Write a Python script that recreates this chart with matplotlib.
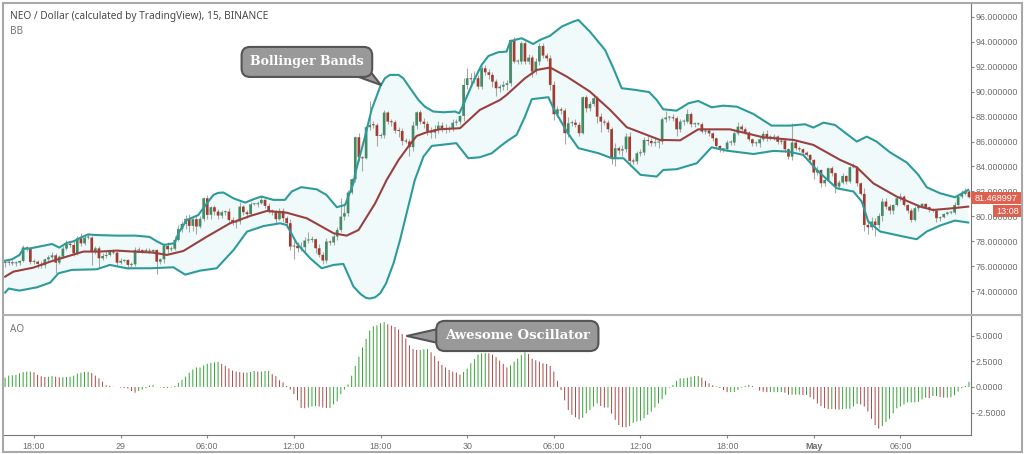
"""
NEO / Dollar 15 分钟 K 线：布林带与动量震荡指标 (AO)。
"""

import numpy as np
import matplotlib.pyplot as plt
from matplotlib.lines import Line2D
from matplotlib.patches import Rectangle


def load_data():
    closes = [
        76.36, 76.28, 76.23, 76.28, 76.42, 77.51, 77.41, 76.34, 76.36, 76.18,
        76.07, 76.55, 76.71, 76.87, 76.28, 76.76, 77.41, 77.78, 77.7, 77.03,
        78.23, 77.83, 78.29, 78.29, 77.17, 77.43, 76.63, 76.82, 76.9, 77.17,
        77.09, 76.28, 76.42, 76.5, 76.1, 76.15, 77.3, 77.25, 77.22, 77.25,
        77.17, 77.3, 76.36, 76.55, 77.62, 77.35, 77.4, 78.11, 78.97, 79.39,
        79.8, 79.23, 79.77, 79.18, 79.8, 81.45, 80.12, 80.73, 80.38, 80.06,
        80.33, 80.38, 79.71, 79.5, 79.58, 80.78, 80.33, 80.17, 80.97, 80.97,
        81.05, 81.32, 80.84, 80.46, 80.33, 79.77, 80.44, 79.85, 79.45, 77.57,
        77.63, 77.44, 77.52, 78.06, 78.11, 78.16, 77.44, 76.91, 76.45, 77.98,
        77.9, 78.38, 78.91, 79.98, 80.25, 81.91, 82.98, 86.35, 84.74, 84.66,
        87.15, 87.34, 87.31, 86.45, 86.5, 88.33, 87.6, 87.55, 86.88, 86.85,
        86.05, 86.0, 85.55, 87.28, 88.35, 87.6, 87.42, 86.85, 86.72, 86.99,
        87.28, 87.07, 86.99, 87.07, 87.52, 87.6, 88.06, 90.54, 91.08, 91.0,
        91.08, 90.41, 91.88, 91.56, 91.35, 90.81, 90.28, 90.41, 90.55, 90.68,
        94.16, 92.42, 92.42, 93.89, 92.42, 92.74, 91.62, 92.42, 93.67, 92.9,
        92.68, 90.55, 88.19, 88.59, 88.49, 86.67, 87.47, 87.52, 87.34, 86.67,
        89.56, 88.67, 89.02, 89.48, 88.0, 87.6, 87.52, 86.99, 84.66, 85.47,
        85.28, 85.39, 86.4, 84.45, 84.4, 85.06, 85.12, 86.13, 86.05, 85.87,
        85.92, 86.0, 87.79, 87.93, 87.95, 87.87, 86.98, 87.6, 87.6, 88.21,
        87.39, 87.39, 87.39, 86.8, 86.88, 86.66, 86.26, 85.65, 85.38, 85.38,
        85.92, 85.92, 86.66, 87.2, 86.98, 86.72, 86.18, 85.86, 85.86, 86.18,
        86.61, 86.32, 86.32, 86.4, 85.98, 86.08, 85.38, 84.79, 85.92, 85.46,
        85.38, 85.11, 84.93, 84.53, 83.51, 83.72, 82.65, 82.92, 83.86, 83.46,
        82.39, 82.71, 83.24, 82.79, 83.94, 83.94, 82.65, 81.8, 79.31, 79.12,
        79.58, 79.3, 80.03, 81.18, 80.78, 80.46, 80.91, 81.45, 81.58, 80.91,
        80.46, 79.71, 80.65, 80.78, 81.0, 80.73, 80.57, 80.46, 79.85, 79.93,
        80.19, 80.3, 80.3, 80.91, 81.58, 81.8, 81.99, 81.53,
    ]
    # 上影线长度
    wick_up = [
        0.1, 0.1, 0.2, 0.1, 0.1, 0.2, 0.1, 0.1, 0.2, 0.1,
        0.2, 0.1, 0.2, 0.3, 0.2, 0.1, 0.2, 0.3, 0.2, 0.3,
        0.2, 0.4, 0.2, 0.3, 0.1, 0.2, 0.2, 0.2, 0.3, 0.1,
        0.2, 0.1, 0.2, 0.1, 0.1, 0.2, 0.2, 0.2, 0.1, 0.2,
        0.2, 0.1, 0.1, 0.1, 0.2, 0.3, 0.2, 0.3, 0.3, 0.2,
        0.3, 0.4, 0.2, 0.3, 0.2, 0.1, 0.3, 0.1, 0.2, 0.2,
        0.2, 0.1, 0.3, 0.2, 0.2, 0.4, 0.1, 0.2, 0.2, 0.1,
        0.2, 0.3, 0.1, 0.2, 0.1, 0.2, 0.2, 0.2, 0.2, 0.3,
        0.5, 0.3, 0.4, 0.3, 0.6, 0.3, 0.1, 0.3, 0.2, 0.3,
        0.1, 0.2, 0.2, 1.5, 0.8, 0.2, 0.1, 0.1, 0.3, 0.1,
        0.1, 1.9, 0.3, 0.2, 0.2, 0.2, 0.1, 0.2, 0.2, 0.3,
        0.2, 0.2, 0.2, 0.4, 0.1, 0.2, 0.3, 0.2, 0.3, 0.3,
        0.4, 0.3, 0.3, 0.2, 0.3, 0.2, 0.1, 0.6, 0.8, 0.4,
        0.6, 0.3, 0.2, 0.3, 0.3, 0.2, 0.2, 0.2, 0.3, 0.3,
        0.1, 0.2, 0.2, 0.2, 0.2, 0.3, 0.2, 0.3, 0.2, 0.2,
        0.2, 0.3, 0.3, 0.3, 0.2, 0.2, 0.5, 0.2, 0.3, 0.2,
        0.1, 0.2, 0.2, 0.2, 0.2, 0.3, 0.2, 0.2, 0.2, 0.4,
        0.2, 0.3, 0.3, 0.4, 0.2, 0.2, 0.3, 0.2, 0.3, 0.2,
        0.4, 0.2, 0.2, 0.5, 0.1, 0.3, 0.2, 0.2, 0.2, 0.4,
        0.2, 0.2, 0.2, 0.2, 0.2, 0.2, 0.1, 0.1, 0.1, 0.1,
        0.2, 0.2, 0.2, 0.4, 0.2, 0.2, 0.1, 0.1, 0.2, 0.2,
        0.2, 0.3, 0.2, 0.2, 0.1, 0.2, 0.1, 0.1, 1.6, 0.2,
        0.2, 0.1, 0.1, 0.1, 0.1, 0.3, 0.1, 0.2, 0.1, 0.2,
        0.1, 0.2, 0.2, 0.1, 0.1, 0.3, 0.1, 0.1, 0.5, 0.2,
        0.4, 0.3, 0.2, 0.3, 0.3, 0.2, 0.1, 0.1, 0.3, 0.1,
        0.1, 0.2, 0.2, 0.2, 0.1, 0.1, 0.1, 0.1, 0.1, 0.1,
        0.1, 0.1, 0.1, 0.2, 0.1, 0.3, 0.3, 0.1,
    ]
    # 下影线长度
    wick_dn = [
        0.3, 0.2, 0.1, 0.2, 0.2, 0.1, 0.2, 0.2, 0.2, 0.3,
        0.2, 0.2, 0.1, 0.1, 0.8, 0.1, 0.1, 0.1, 0.2, 0.2,
        0.1, 0.2, 0.1, 0.1, 1.1, 0.2, 0.8, 0.1, 0.2, 0.1,
        0.1, 0.2, 0.1, 0.1, 0.3, 0.2, 0.1, 0.1, 0.2, 0.1,
        0.1, 0.1, 1.0, 0.2, 0.3, 0.3, 0.1, 0.1, 0.1, 0.2,
        0.4, 0.5, 0.4, 0.6, 0.1, 0.2, 0.3, 0.3, 0.3, 0.3,
        0.2, 0.2, 0.2, 0.2, 0.4, 0.2, 0.2, 0.3, 0.1, 0.1,
        0.2, 0.1, 0.2, 0.2, 0.2, 0.3, 0.1, 0.3, 0.2, 0.3,
        1.0, 0.3, 0.2, 0.4, 0.2, 0.2, 0.4, 0.2, 0.3, 0.2,
        0.2, 0.2, 0.3, 0.2, 0.3, 0.2, 0.1, 0.2, 0.3, 1.0,
        0.1, 0.2, 0.2, 0.8, 0.2, 0.2, 0.2, 0.3, 0.2, 0.5,
        0.3, 0.1, 0.7, 0.3, 0.3, 0.2, 0.3, 0.3, 0.4, 0.4,
        0.3, 0.3, 0.3, 0.2, 0.2, 0.2, 0.2, 0.4, 0.3, 0.6,
        0.3, 0.2, 0.2, 0.2, 0.3, 0.4, 0.6, 0.3, 0.3, 0.4,
        0.2, 0.1, 0.2, 0.2, 0.2, 0.2, 0.4, 0.2, 0.3, 0.2,
        0.2, 0.4, 0.5, 0.2, 0.3, 0.9, 0.3, 0.2, 0.2, 0.2,
        0.1, 0.3, 0.2, 0.2, 0.5, 0.8, 0.2, 0.2, 0.5, 0.6,
        0.3, 0.4, 0.2, 0.4, 0.2, 0.2, 0.2, 0.2, 0.3, 0.2,
        0.2, 0.4, 0.2, 0.2, 0.2, 0.2, 0.5, 0.2, 0.3, 0.1,
        0.2, 0.2, 0.1, 0.1, 0.2, 0.2, 0.2, 0.2, 0.2, 0.2,
        0.1, 0.2, 0.2, 0.1, 0.1, 0.1, 0.1, 0.2, 0.2, 0.3,
        0.1, 0.3, 0.2, 0.2, 0.2, 0.2, 0.2, 0.2, 0.3, 0.1,
        0.1, 0.2, 0.1, 0.2, 0.5, 0.2, 0.3, 0.2, 0.1, 0.2,
        0.5, 0.2, 0.1, 0.2, 0.1, 0.1, 0.2, 0.1, 0.5, 0.5,
        0.2, 0.9, 0.2, 0.4, 0.2, 0.3, 0.3, 0.1, 0.2, 0.1,
        0.2, 0.2, 0.1, 0.2, 0.1, 0.1, 0.2, 0.1, 0.3, 0.2,
        0.1, 0.1, 0.1, 0.1, 0.1, 0.1, 0.1, 0.1,
    ]
    upper = [
        (0, 76.44), (2, 76.56), (4, 76.9), (5, 77.38), (7, 77.43), (10, 77.6),
        (13, 77.78), (15, 77.49), (17, 77.85), (19, 78.0), (21, 78.3), (23, 78.55),
        (25, 78.5), (31, 78.45), (36, 78.45), (40, 78.35), (42, 78.0), (44, 77.7),
        (47, 77.85), (48, 78.64), (50.3, 79.7), (53.5, 80.1), (54.9, 80.65),
        (57.7, 81.72), (59, 81.88), (60.5, 81.91), (63.2, 81.45), (66.5, 81.1), (68.8, 81.37),
        (71, 81.59), (74.3, 81.32), (77.5, 81.32), (79.4, 81.99), (82, 82.34),
        (86.3, 82.17), (89, 81.72), (91.9, 80.73), (94.2, 80.92), (96.5, 82.66),
        (97, 83.46), (99.7, 86.4), (101.5, 88.54), (103.9, 90.41), (105.2, 91.08),
        (106.6, 91.35), (109, 91.35), (110.3, 91.08), (112.2, 90.28), (114.5, 89.34),
        (116.3, 88.8), (118.6, 88.41), (121.4, 88.35), (124.6, 88.41), (125.8, 88.27),
        (126.9, 88.94), (129.7, 90.81), (132, 92.15), (133.9, 92.87), (136.6, 93.17),
        (138.9, 93.22), (139.9, 94.02), (141.2, 94.16), (143.1, 94.29), (145, 94.02),
        (146.3, 93.83), (148.2, 94.16), (150.9, 94.48), (154.2, 95.23), (157.4, 95.63),
        (158.8, 95.76), (162, 94.82), (166.2, 93.35), (168.5, 91.88), (170.8, 90.28),
        (174.5, 90.15), (178.4, 89.97), (180.5, 89.34), (182.3, 88.59), (186, 88.48),
        (189.3, 89.07), (192, 89.26), (195.7, 88.75), (198.9, 88.88), (202.7, 88.8),
        (207.3, 88.21), (212.3, 87.28), (217.4, 87.28), (221.6, 87.39), (223.9, 87.12),
        (226.7, 87.52), (229.9, 87.33), (235.9, 86.0), (238.7, 86.4), (241.4, 86.0),
        (245.1, 85.14), (249.8, 84.31), (253, 83.32), (255.3, 82.33), (259, 81.85),
        (263.1, 81.53), (266.8, 82.12),
    ]
    middle = [
        (0, 75.16), (2.3, 75.56), (7.8, 75.88), (12.5, 76.36), (17, 76.76), (21.7, 77.17),
        (26.3, 77.17), (30.9, 77.25), (35.5, 77.17), (41, 77.09), (44.8, 76.9),
        (49.4, 77.22), (55.9, 78.37), (62.3, 79.44), (67.9, 80.03), (72.5, 80.43),
        (78, 80.29), (83.6, 79.84), (91, 78.64), (94.6, 78.45), (97.9, 78.9),
        (102.5, 81.04), (105.7, 82.92), (109, 84.53), (111.7, 85.6), (114, 86.45),
        (116.8, 86.75), (120.5, 86.99), (126, 87.07), (131.5, 88.54), (137.1, 89.34),
        (138.9, 89.74), (144, 91.08), (147.3, 91.75), (151, 91.94), (155.6, 91.21),
        (162, 90.01), (167.6, 88.54), (172.2, 87.15), (177.7, 86.54), (181.4, 86.13),
        (187, 86.1), (192, 86.98), (200.8, 86.98), (210, 86.34), (218.4, 86.13),
        (223.9, 85.73), (231.3, 84.53), (235.9, 83.94), (240.5, 82.65), (247, 81.58),
        (253.5, 80.78), (257, 80.51), (262.6, 80.65), (266.8, 80.78),
    ]
    lower = [
        (0, 73.88), (1, 74.2), (4, 74.04), (8.8, 74.3), (12.5, 74.68), (14.8, 75.43),
        (18.5, 75.7), (25.4, 75.75), (29, 76.1), (33.7, 75.83), (40.2, 75.83),
        (46.6, 75.91), (49.9, 75.32), (54, 75.64), (58.6, 75.83), (63.3, 77.3),
        (67, 78.77), (71.6, 79.22), (76.2, 79.44), (78, 79.3), (80.8, 77.83),
        (84.5, 76.63), (87.7, 75.83), (91, 76.1), (93.7, 76.18), (96.5, 74.36),
        (98.5, 73.75), (100, 73.45), (101, 73.4), (102.5, 73.5), (103.9, 73.82),
        (105.5, 74.6), (107.6, 76.23), (109.4, 78.1), (113.5, 82.92),
        (115.9, 84.8), (118.2, 85.65), (125, 85.87), (128.3, 84.66), (131.5, 84.74),
        (134.8, 85.06), (137.1, 85.6), (138.9, 86.0), (141.7, 86.54), (144, 88.0),
        (145.9, 89.4), (150.5, 89.56), (151.9, 88.67), (155.6, 86.8), (158.8, 85.47),
        (164.4, 85.06), (168.1, 84.66), (171.3, 84.66), (176, 83.33), (180.5, 83.19),
        (182.3, 83.72), (186, 83.78), (191.6, 84.26), (195.7, 85.54), (199.9, 85.27),
        (207.3, 85.0), (212.8, 85.25), (217, 85.19), (221.1, 84.93), (224.8, 83.72),
        (230.4, 82.25), (235, 81.99), (237.3, 81.18), (239.1, 79.58), (242.4, 78.78),
        (248.8, 78.38), (252.5, 78.16), (255.3, 78.78), (259, 79.26), (263.1, 79.66),
        (266.8, 79.5),
    ]
    ao = [
        0.9, 1.1, 1.13, 1.17, 1.33, 1.46, 1.49, 1.49, 1.43, 1.17,
        1.04, 0.97, 1.0, 1.07, 1.0, 0.94, 0.94, 0.97, 1.0, 1.1,
        1.3, 1.4, 1.46, 1.49, 1.36, 1.1, 0.84, 0.52, 0.16, 0.1,
        0.02, 0.0, -0.05, -0.1, -0.15, -0.4, -0.55, -0.4, -0.25, -0.1,
        0.15, 0.18, 0.0, -0.05, -0.1, -0.1, -0.05, 0.1, 0.4, 0.7,
        1.0, 1.4, 1.7, 1.9, 1.9, 2.1, 2.25, 2.35, 2.4, 2.45,
        2.25, 2.05, 1.8, 1.6, 1.5, 1.45, 1.4, 1.4, 1.45, 1.55,
        1.5, 1.5, 1.55, 1.55, 1.25, 1.05, 0.65, 0.45, 0.1, -0.25,
        -0.7, -1.3, -2.05, -2.07, -2.0, -1.9, -1.85, -1.9, -2.0, -2.05,
        -2.05, -1.7, -1.4, -0.7, -0.25, 0.25, 1.1, 2.05, 2.95, 3.85,
        4.67, 5.5, 5.9, 6.0, 6.2, 6.3, 6.1, 5.97, 5.84, 5.6,
        5.15, 4.7, 4.05, 3.7, 3.6, 3.6, 3.66, 3.7, 3.37, 3.0,
        2.53, 2.14, 1.9, 1.65, 1.5, 1.4, 1.2, 1.46, 1.78, 2.3,
        2.7, 3.15, 3.27, 3.3, 3.27, 3.15, 2.9, 2.56, 2.24, 1.9,
        2.1, 2.46, 2.75, 3.1, 3.37, 3.2, 2.75, 2.6, 2.46, 2.3,
        2.24, 2.04, 1.5, 0.6, -0.3, -1.3, -2.24, -2.7, -2.95, -3.15,
        -3.0, -2.56, -2.24, -1.9, -1.6, -1.85, -2.0, -2.0, -2.6, -3.2,
        -3.7, -3.9, -3.92, -3.8, -3.5, -3.37, -3.27, -3.05, -2.7, -2.4,
        -2.0, -1.6, -1.2, -0.78, -0.06, 0.2, 0.6, 0.85, 0.85, 0.9,
        1.0, 1.07, 1.07, 0.9, 0.6, 0.35, 0.16, 0.05, -0.1, -0.3,
        -0.5, -0.5, -0.5, -0.3, -0.06, 0.1, 0.2, 0.1, 0.0, -0.35,
        -0.45, -0.5, -0.5, -0.5, -0.5, -0.5, -0.55, -0.75, -0.75, -0.75,
        -0.75, -0.78, -0.78, -1.0, -1.2, -1.6, -1.85, -2.05, -2.15, -2.15,
        -2.17, -2.2, -2.15, -2.12, -2.12, -1.9, -1.65, -1.7, -1.9, -2.4,
        -3.1, -3.7, -4.05, -3.8, -3.4, -3.1, -2.56, -2.07, -1.9, -1.7,
        -1.5, -1.5, -1.5, -1.45, -1.2, -1.05, -1.07, -0.88, -0.88, -0.97,
        -1.04, -1.04, -1.0, -0.8, -0.45, -0.13, 0.1, 0.5,
    ]
    return closes, wick_up, wick_dn, upper, middle, lower, ao


def plot_chart(closes, wick_up, wick_dn, upper, middle, lower, ao):
    """绘制 K 线、布林带和 AO"""
    fig, axes = plt.subplots(2, 1, figsize=(10.24, 4.54), sharex=True,
                             gridspec_kw={'height_ratios': [312, 120.5]})
    fig.subplots_adjust(left=3/1024, right=971/1024, top=1-3/454, bottom=1-435.5/454, hspace=0)

    idx = np.arange(len(closes))
    closes = np.array(closes)
    opens = np.r_[closes[0] - 0.1, closes[:-1]]
    body_top = np.maximum(opens, closes)
    body_bot = np.minimum(opens, closes)
    ups = closes >= opens

    # 图 1: 布林带 + K 线
    ax = axes[0]
    up_x, up_y = zip(*upper)
    mid_x, mid_y = zip(*middle)
    lo_x, lo_y = zip(*lower)
    ax.fill(list(up_x) + list(lo_x)[::-1], list(up_y) + list(lo_y)[::-1],
            color='#f0fafa', lw=0, zorder=1)
    ax.vlines(idx, body_bot - np.array(wick_dn), body_top + np.array(wick_up),
              color='#a8a8a8', lw=0.8, zorder=2)
    ax.bar(idx, np.maximum(body_top - body_bot, 0.08), bottom=body_bot, width=0.74,
           color=['#448a64' if u else '#a23b30' for u in ups], snap=False, lw=0, zorder=3)
    ax.plot(up_x, up_y, color='#2e9b9b', lw=1.5, zorder=4)
    ax.plot(lo_x, lo_y, color='#2e9b9b', lw=1.5, zorder=4)
    ax.plot(mid_x, mid_y, color='#9a4040', lw=1.5, zorder=4)
    ax.set_ylim(72.08, 97.12)
    ax.set_yticks(np.arange(74, 97, 2))
    ax.set_yticklabels([f'{v:.6f}' for v in np.arange(74, 97, 2)])
    ax.annotate('Bollinger Bands', xy=(104.1, 90.54), xytext=(83.6, 92.39),
                ha='center', va='center', color='white', fontsize=9, fontweight='bold',
                family='DejaVu Serif', zorder=6,
                bbox=dict(boxstyle='round,pad=0.68', fc='#999999', ec='#555555', lw=1.5),
                arrowprops=dict(arrowstyle='wedge,tail_width=1.3', fc='#999999', ec='#555555',
                                lw=1.5, relpos=(0.95, 0.0), patchA=None, shrinkA=0, shrinkB=0))
    # 当前价格和倒计时
    trans = ax.get_yaxis_transform()
    ax.add_patch(Rectangle((1.0, 80.97), 51/968, 0.98, transform=trans, color='#e0604f',
                           lw=0, clip_on=False, zorder=7))
    ax.text(1.0 + 25.5/968, 81.44, '81.468997', transform=trans, color='white', ha='center',
            va='center', fontsize=6.6, family='Liberation Sans', zorder=8)
    ax.add_patch(Rectangle((1.0 + 22/968, 79.95), 29/968, 0.96, transform=trans, color='#e0604f',
                           lw=0, clip_on=False, zorder=7))
    ax.text(1.0 + 36.5/968, 80.41, '13:08', transform=trans, color='white', ha='center',
            va='center', fontsize=6.6, family='Liberation Sans', zorder=8)
    ax.text(7/968, 1 - 14/312, 'NEO / Dollar (calculated by TradingView), 15, BINANCE',
            transform=ax.transAxes, color='#4a4a4a', fontsize=7.3, va='center',
            family='Noto Sans', fontweight='medium')
    ax.text(7/968, 1 - 28/312, 'BB', transform=ax.transAxes, color='#777777', fontsize=7.2,
            va='center', family='Noto Sans')

    # 图 2: AO
    ax = axes[1]
    ao = np.array(ao)
    rising = np.r_[True, ao[1:] >= ao[:-1]]
    ax.bar(idx, ao, width=0.27, color=['#35a335' if r else '#a84848' for r in rising],
           snap=False, lw=0)
    ax.set_ylim(-4.72, 7.0)
    ax.set_yticks([-2.5, 0, 2.5, 5])
    ax.set_yticklabels(['-2.5000', '0.0000', '2.5000', '5.0000'])
    ax.annotate('Awesome Oscillator', xy=(111.3, 4.96), xytext=(141.9, 4.96),
                ha='center', va='center', color='white', fontsize=9.5, fontweight='bold',
                family='DejaVu Serif', zorder=6,
                bbox=dict(boxstyle='round,pad=0.65', fc='#999999', ec='#555555', lw=1.5),
                arrowprops=dict(arrowstyle='wedge,tail_width=1.3', fc='#999999', ec='#555555',
                                lw=1.5, relpos=(0.0, 0.5), patchA=None, shrinkA=0, shrinkB=0))
    ax.text(7/968, 1 - 14/120.5, 'AO', transform=ax.transAxes, color='#777777', fontsize=7.2,
            va='center', family='Noto Sans')
    ax.set_xlim(-0.58, 267.56)
    ax.set_xticks([8, 32, 56, 80, 104, 128, 152, 176, 200, 224, 248])
    ax.set_xticklabels(['18:00', '29', '06:00', '12:00', '18:00', '30', '06:00', '12:00',
                        '18:00', 'May', '06:00'])
    ax.get_xticklabels()[9].set_fontweight('bold')

    for ax in axes:
        ax.yaxis.tick_right()
        ax.tick_params(axis='y', length=2, width=0.8, color='#888888', labelcolor='#6e6e6e',
                       labelsize=6.4, pad=1.5, labelfontfamily='Liberation Sans')
        ax.tick_params(axis='x', length=2, width=0.8, color='#888888', labelcolor='#6e6e6e',
                       labelsize=6.4, pad=3, labelfontfamily='Liberation Sans')
        ax.spines['left'].set_visible(False)
        ax.spines['top'].set_visible(False)
        ax.spines['right'].set_color('#777777')
        ax.spines['bottom'].set_visible(False)
    axes[0].tick_params(axis='x', length=0)
    axes[1].spines['bottom'].set_visible(True)
    axes[1].spines['bottom'].set_color('#777777')

    # 外框和分隔线
    fig.add_artist(Rectangle((3/1024, 1-452/454), 1019/1024, 449/454, fill=False,
                             ec='#a8a8a8', lw=1.5, transform=fig.transFigure))
    fig.add_artist(Line2D([3/1024, 1022/1024], [1-315/454, 1-315/454], color='#b0b0b0', lw=1.5))

    plt.savefig('out.png', dpi=100)
    print("图表已保存: out.png")
    plt.close()


def run_chart():
    """读入数据并绘图"""
    data = load_data()
    plot_chart(*data)


if __name__ == "__main__":
    run_chart()
